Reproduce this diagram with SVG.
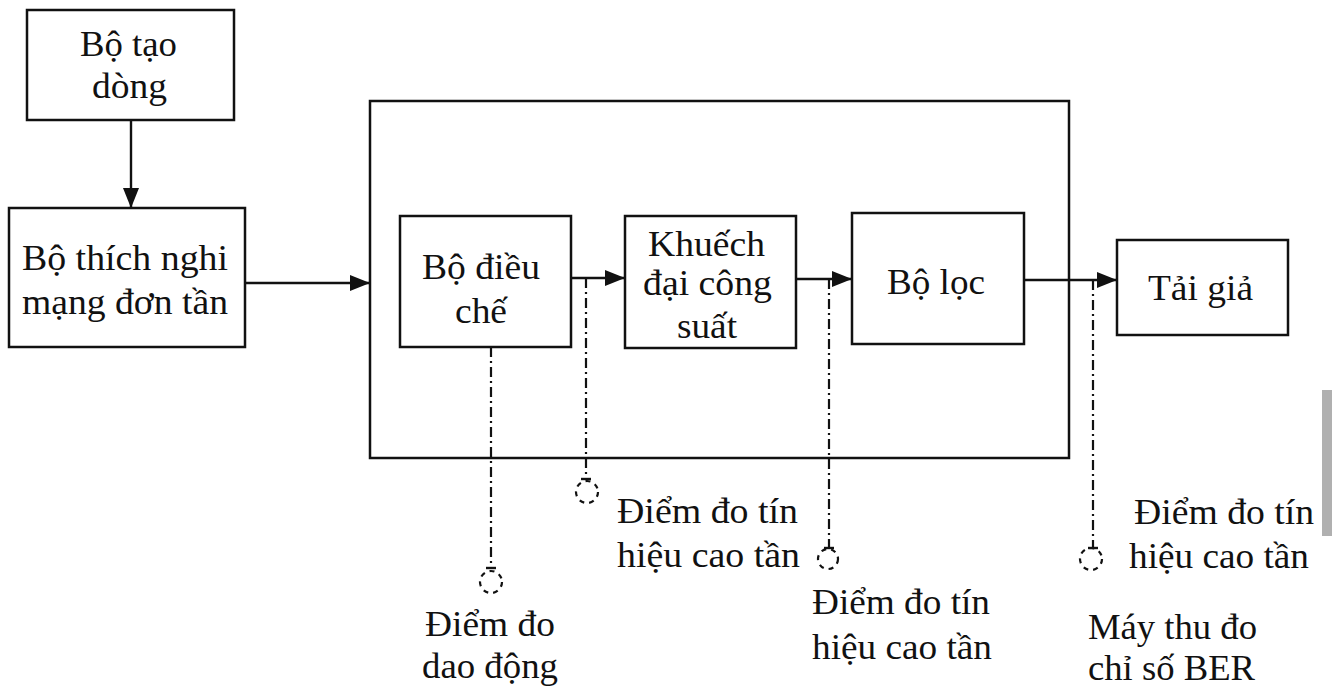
<svg xmlns="http://www.w3.org/2000/svg" width="1332" height="686" viewBox="0 0 1332 686">
<style>
.box{fill:#fff;stroke:#111;stroke-width:2.5}
.frame{fill:none;stroke:#111;stroke-width:2.5}
.t{font-family:"Liberation Serif",serif;font-size:36px;fill:#111}
.ln{fill:none;stroke:#111;stroke-width:2.4}
.dd{fill:none;stroke:#111;stroke-width:2.2;stroke-dasharray:10 4 2 4}
.ci{fill:none;stroke:#111;stroke-width:2.2;stroke-dasharray:5 5}
</style>
<defs>
<marker id="ah" viewBox="0 0 20 16" refX="20" refY="8" markerWidth="20" markerHeight="16" markerUnits="userSpaceOnUse" orient="auto">
<path d="M0,0 L20,8 L0,16 Z" fill="#111"/>
</marker>
</defs>
<rect width="1332" height="686" fill="#fff"/>
<rect x="1322" y="390" width="10" height="146" fill="#b0b0b0"/>

<g id="frame"><rect class="frame" x="370" y="101" width="699" height="357"/></g>

<g id="bo-tao-dong">
<rect class="box" x="27" y="10" width="207" height="110"/>
<text class="t" x="80" y="56" textLength="97" lengthAdjust="spacingAndGlyphs">Bộ tạo</text>
<text class="t" x="92" y="98" textLength="75" lengthAdjust="spacingAndGlyphs">dòng</text>
</g>

<g id="bo-thich-nghi">
<rect class="box" x="9" y="208" width="236" height="139"/>
<text class="t" x="22" y="270" textLength="206" lengthAdjust="spacingAndGlyphs">Bộ thích nghi</text>
<text class="t" x="22" y="314" textLength="206" lengthAdjust="spacingAndGlyphs">mạng đơn tần</text>
</g>

<g id="bo-dieu-che">
<rect class="box" x="400" y="216" width="171" height="131"/>
<text class="t" x="422" y="279" textLength="118" lengthAdjust="spacingAndGlyphs">Bộ điều</text>
<text class="t" x="455" y="323" textLength="52" lengthAdjust="spacingAndGlyphs">chế</text>
</g>

<g id="khuech-dai">
<rect class="box" x="625" y="216" width="171" height="132"/>
<text class="t" x="648" y="256" textLength="117" lengthAdjust="spacingAndGlyphs">Khuếch</text>
<text class="t" x="643" y="295" textLength="129" lengthAdjust="spacingAndGlyphs">đại công</text>
<text class="t" x="677" y="338" textLength="60" lengthAdjust="spacingAndGlyphs">suất</text>
</g>

<g id="bo-loc">
<rect class="box" x="852" y="213" width="172" height="131"/>
<text class="t" x="887" y="294" textLength="98" lengthAdjust="spacingAndGlyphs">Bộ lọc</text>
</g>

<g id="tai-gia">
<rect class="box" x="1117" y="240" width="171" height="95"/>
<text class="t" x="1148" y="300" textLength="105" lengthAdjust="spacingAndGlyphs">Tải giả</text>
</g>

<g id="connectors">
<line class="ln" x1="131" y1="120" x2="131" y2="208" marker-end="url(#ah)"/>
<line class="ln" x1="245" y1="283" x2="370" y2="283" marker-end="url(#ah)"/>
<line class="ln" x1="571" y1="278" x2="625" y2="278" marker-end="url(#ah)"/>
<line class="ln" x1="796" y1="279" x2="852" y2="279" marker-end="url(#ah)"/>
<line class="ln" x1="1024" y1="280" x2="1117" y2="280" marker-end="url(#ah)"/>

<line class="dd" x1="491" y1="347" x2="491" y2="568"/>
<line class="ln" x1="486" y1="568" x2="496" y2="568"/>
<circle class="ci" cx="491" cy="582" r="11"/>

<line class="dd" x1="586" y1="278" x2="586" y2="479"/>
<line class="ln" x1="581" y1="479" x2="591" y2="479"/>
<circle class="ci" cx="587" cy="492" r="11"/>

<line class="dd" x1="829" y1="279" x2="829" y2="548"/>
<line class="ln" x1="824" y1="548" x2="834" y2="548"/>
<circle class="ci" cx="828" cy="559" r="10"/>

<line class="dd" x1="1093" y1="280" x2="1093" y2="548"/>
<line class="ln" x1="1088" y1="548" x2="1098" y2="548"/>
<circle class="ci" cx="1091" cy="559" r="11"/>
</g>

<g id="labels">
<text class="t" x="617" y="523" textLength="181" lengthAdjust="spacingAndGlyphs">Điểm đo tín</text>
<text class="t" x="617" y="567" textLength="183" lengthAdjust="spacingAndGlyphs">hiệu cao tần</text>

<text class="t" x="425" y="636" textLength="130" lengthAdjust="spacingAndGlyphs">Điểm đo</text>
<text class="t" x="422" y="678" textLength="136" lengthAdjust="spacingAndGlyphs">dao động</text>

<text class="t" x="812" y="614" textLength="178" lengthAdjust="spacingAndGlyphs">Điểm đo tín</text>
<text class="t" x="812" y="659" textLength="180" lengthAdjust="spacingAndGlyphs">hiệu cao tần</text>

<text class="t" x="1134" y="524" textLength="180" lengthAdjust="spacingAndGlyphs">Điểm đo tín</text>
<text class="t" x="1129" y="568" textLength="180" lengthAdjust="spacingAndGlyphs">hiệu cao tần</text>

<text class="t" x="1088" y="639" textLength="169" lengthAdjust="spacingAndGlyphs">Máy thu đo</text>
<text class="t" x="1088" y="680" textLength="167" lengthAdjust="spacingAndGlyphs">chỉ số BER</text>
</g>
</svg>
